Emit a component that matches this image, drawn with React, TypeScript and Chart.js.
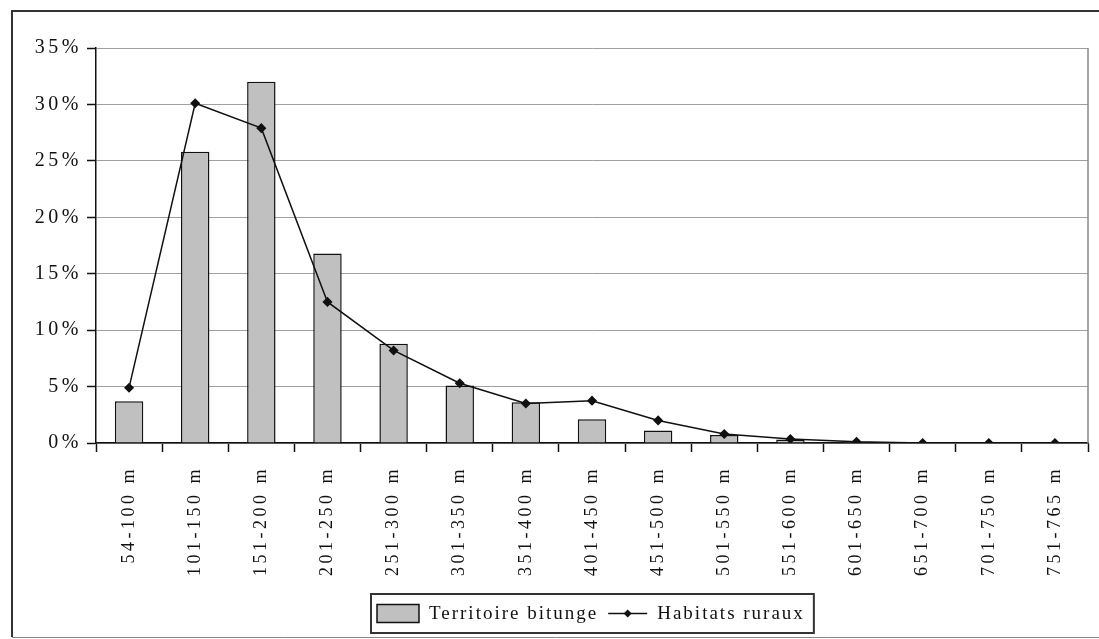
import React, { useEffect, useRef } from "react";
import { Chart, registerables } from "chart.js";

Chart.register(...registerables);

// ---- data ----
const categories = [
  "54-100 m", "101-150 m", "151-200 m", "201-250 m", "251-300 m",
  "301-350 m", "351-400 m", "401-450 m", "451-500 m", "501-550 m",
  "551-600 m", "601-650 m", "651-700 m", "701-750 m", "751-765 m",
];
const territoireBitunge = [3.7, 25.8, 32.0, 16.8, 8.8, 5.1, 3.6, 2.1, 1.1, 0.7, 0.3, 0.1, 0, 0, 0];
const habitatsRuraux = [4.9, 30.1, 27.9, 12.5, 8.2, 5.3, 3.5, 3.75, 2.0, 0.8, 0.35, 0.1, 0, 0, 0];
const seriesLabels = ["Territoire bitunge", "Habitats ruraux"];
const yMin = 0;
const yMax = 35;
const yStep = 5;

const SERIF = '"Liberation Serif", "Times New Roman", serif';
const BAR_FILL = "#c0c0c0";
const INK = "#111";
const SPACING = "3.5px";

const decorPlugin = {
  id: "decor",
  beforeLayout(chart: any) {
    chart.ctx.letterSpacing = SPACING;
  },
  beforeDraw(chart: any) {
    const ctx = chart.ctx;
    ctx.letterSpacing = SPACING;
    ctx.save();
    ctx.fillStyle = "#fff";
    ctx.fillRect(0, 0, chart.width, chart.height);
    // outer frame
    ctx.strokeStyle = "#333";
    ctx.lineWidth = 2;
    ctx.beginPath();
    ctx.moveTo(chart.width + 5, 11);
    ctx.lineTo(12, 11);
    ctx.lineTo(12, chart.height - 2);
    ctx.stroke();
    ctx.strokeStyle = "#888";
    ctx.lineWidth = 1;
    ctx.beginPath();
    ctx.moveTo(12, chart.height - 1.5);
    ctx.lineTo(chart.width, chart.height - 1.5);
    ctx.stroke();
    ctx.restore();
  },
  afterDraw(chart: any) {
    const ctx = chart.ctx;
    const area = chart.chartArea;
    ctx.save();
    // right border of plot area
    ctx.strokeStyle = "#888";
    ctx.lineWidth = 1.5;
    ctx.beginPath();
    ctx.moveTo(area.right, area.top);
    ctx.lineTo(area.right, area.bottom);
    ctx.stroke();

    // legend
    ctx.font = `19px ${SERIF}`;
    ctx.letterSpacing = "2px";
    const t1 = ctx.measureText(seriesLabels[0]).width;
    const t2 = ctx.measureText(seriesLabels[1]).width;
    const padL = 6, sw = 42, gap1 = 10, gap2 = 10, lineW = 39, gap3 = 10, padR = 9;
    const total = padL + sw + gap1 + t1 + gap2 + lineW + gap3 + t2 + padR;
    const cx = (area.left + area.right) / 2;
    const x0 = Math.round(cx - total / 2);
    const h = 39;
    const y0 = chart.height - 45;
    const ym = y0 + h / 2;
    ctx.fillStyle = "#fff";
    ctx.fillRect(x0, y0, total, h);
    ctx.strokeStyle = "#333";
    ctx.lineWidth = 2;
    ctx.strokeRect(x0, y0, total, h);
    let x = x0 + padL;
    ctx.fillStyle = BAR_FILL;
    ctx.fillRect(x, ym - 9, sw, 18);
    ctx.strokeStyle = INK;
    ctx.lineWidth = 1.5;
    ctx.strokeRect(x, ym - 9, sw, 18);
    x += sw + gap1;
    ctx.fillStyle = INK;
    ctx.textBaseline = "middle";
    ctx.textAlign = "left";
    ctx.fillText(seriesLabels[0], x, ym + 1);
    x += t1 + gap2;
    ctx.beginPath();
    ctx.moveTo(x, ym);
    ctx.lineTo(x + lineW, ym);
    ctx.lineWidth = 1.5;
    ctx.stroke();
    const mx = x + lineW / 2;
    ctx.beginPath();
    ctx.moveTo(mx, ym - 4);
    ctx.lineTo(mx + 4, ym);
    ctx.lineTo(mx, ym + 4);
    ctx.lineTo(mx - 4, ym);
    ctx.closePath();
    ctx.fill();
    x += lineW + gap3;
    ctx.fillText(seriesLabels[1], x, ym + 1);
    ctx.restore();
  },
};

export default function App() {
  const ref = useRef<HTMLCanvasElement | null>(null);

  useEffect(() => {
    if (!ref.current) return;
    const chart = new Chart(ref.current, {
      type: "bar",
      data: {
        labels: categories,
        datasets: [
          {
            type: "line",
            label: seriesLabels[1],
            data: habitatsRuraux,
            borderColor: INK,
            backgroundColor: INK,
            borderWidth: 1.5,
            pointStyle: "rectRot",
            pointRadius: 4,
            pointBackgroundColor: INK,
            pointBorderColor: INK,
            tension: 0,
            order: 0,
          } as any,
          {
            type: "bar",
            label: seriesLabels[0],
            data: territoireBitunge,
            backgroundColor: BAR_FILL,
            borderColor: INK,
            borderWidth: 1.5,
            categoryPercentage: 1,
            barPercentage: 0.43,
            order: 1,
          } as any,
        ],
      },
      options: {
        animation: false,
        responsive: true,
        maintainAspectRatio: false,
        layout: { padding: { top: 48, right: 11, left: 0, bottom: 0 } },
        plugins: {
          legend: { display: false },
          tooltip: { enabled: false },
          title: { display: false },
        },
        scales: {
          x: {
            offset: true,
            grid: {
              offset: true,
              drawOnChartArea: false,
              drawTicks: true,
              tickLength: 9,
              tickColor: INK,
              tickWidth: 1.5,
            },
            border: { display: true, color: INK, width: 1.5 },
            ticks: {
              autoSkip: false,
              minRotation: 90,
              maxRotation: 90,
              padding: 14,
              color: INK,
              font: { family: SERIF, size: 18 },
            },
            afterFit: (scale: any) => {
              scale.height = 196;
            },
          },
          y: {
            min: yMin,
            max: yMax,
            grid: {
              color: "#a0a0a0",
              lineWidth: 1,
              drawTicks: true,
              tickLength: 9,
              tickColor: INK,
              tickWidth: 1.5,
            },
            border: { display: true, color: INK, width: 1.5 },
            ticks: {
              stepSize: yStep,
              padding: 5,
              color: INK,
              font: { family: SERIF, size: 20 },
              callback: (v: any) => `${v}%`,
            },
            afterFit: (scale: any) => {
              scale.width = 96;
            },
          },
        },
      },
      plugins: [decorPlugin],
    });
    return () => chart.destroy();
  }, []);

  return (
    <div style={{ position: "fixed", left: 0, top: 0, width: 1099, height: 639, background: "#fff" }}>
      <canvas ref={ref} />
    </div>
  );
}
